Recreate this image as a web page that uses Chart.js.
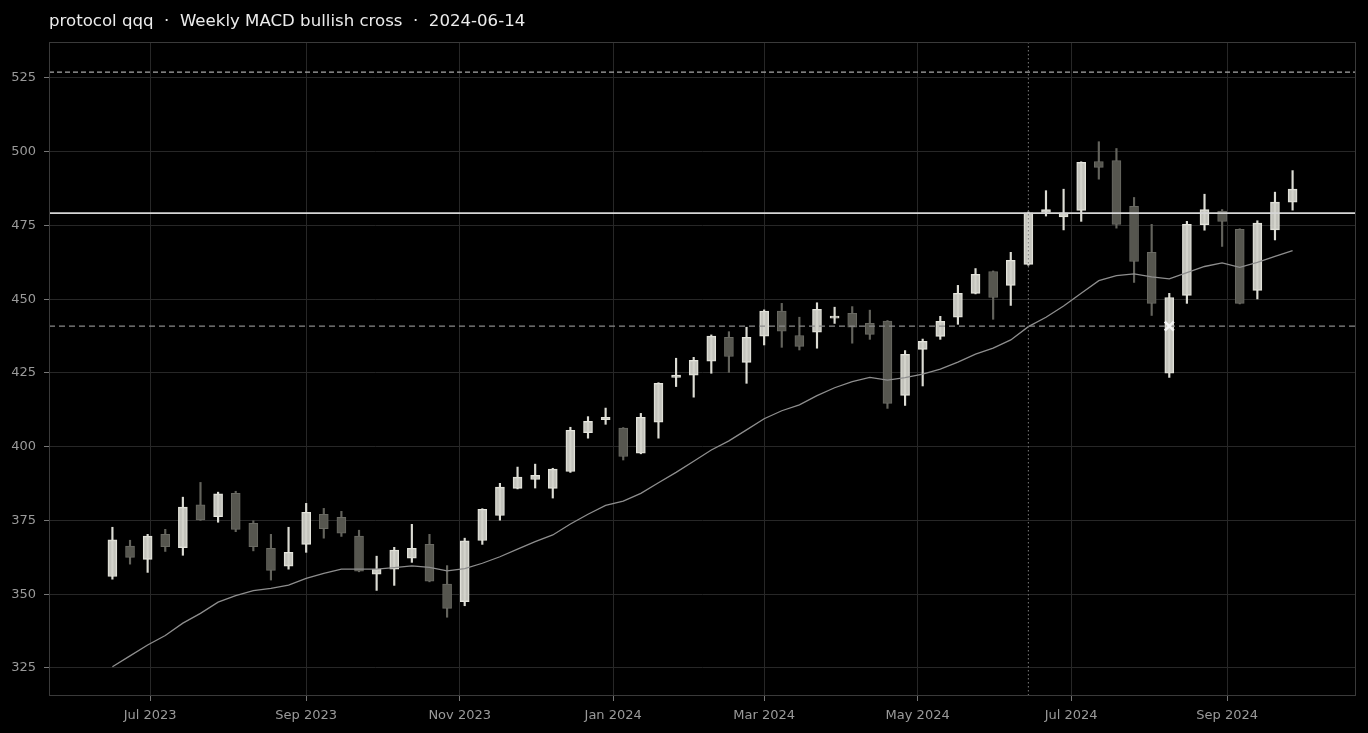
<!DOCTYPE html>
<html lang="en">
<head>
<meta charset="UTF-8">
<title>protocol qqq weekly</title>
<script src="https://cdn.jsdelivr.net/npm/chart.js@4.4.1/dist/chart.umd.min.js"></script>
<style>
  html, body { margin: 0; padding: 0; background: #000; }
  #chart { display: block; }
</style>
</head>
<body>
<canvas id="chart" width="1368" height="733"></canvas>
<script>
// weekly bars (Friday dates)
const weeks = [
  '2023-06-16','2023-06-23','2023-06-30','2023-07-07','2023-07-14','2023-07-21','2023-07-28',
  '2023-08-04','2023-08-11','2023-08-18','2023-08-25','2023-09-01','2023-09-08','2023-09-15',
  '2023-09-22','2023-09-29','2023-10-06','2023-10-13','2023-10-20','2023-10-27','2023-11-03',
  '2023-11-10','2023-11-17','2023-11-24','2023-12-01','2023-12-08','2023-12-15','2023-12-22',
  '2023-12-29','2024-01-05','2024-01-12','2024-01-19','2024-01-26','2024-02-02','2024-02-09',
  '2024-02-16','2024-02-23','2024-03-01','2024-03-08','2024-03-15','2024-03-22','2024-03-29',
  '2024-04-05','2024-04-12','2024-04-19','2024-04-26','2024-05-03','2024-05-10','2024-05-17',
  '2024-05-24','2024-05-31','2024-06-07','2024-06-14','2024-06-21','2024-06-28','2024-07-05',
  '2024-07-12','2024-07-19','2024-07-26','2024-08-02','2024-08-09','2024-08-16','2024-08-23',
  '2024-08-30','2024-09-06','2024-09-13','2024-09-20','2024-09-27'
];
const opens = [
  356.0,366.3,361.8,370.3,365.8,380.3,376.3,384.2,374.0,365.6,359.5,366.9,377.1,376.1,
  369.7,356.8,358.5,362.2,366.9,353.4,347.5,368.2,376.7,385.9,388.9,385.9,391.6,404.8,
  409.2,406.3,397.8,408.3,423.5,424.3,429.0,437.1,428.6,437.5,446.0,437.7,438.8,443.6,
  445.2,441.8,442.6,417.4,433.0,437.4,443.9,452.0,459.4,454.7,461.8,479.4,477.9,480.1,
  496.7,497.0,481.5,465.9,424.9,451.3,475.3,479.9,473.7,453.0,473.5,482.9
];
const highs = [
  372.7,368.3,370.3,372.0,382.9,387.9,384.6,384.9,374.9,370.3,372.7,380.8,379.1,378.1,
  371.7,362.9,365.9,373.7,370.3,359.7,369.0,379.0,387.6,393.1,394.1,392.7,406.6,410.2,
  413.1,406.5,411.3,421.7,430.0,430.3,437.9,439.0,440.5,446.4,448.6,443.9,448.8,447.3,
  447.5,446.3,442.8,432.6,436.5,444.2,454.7,460.4,459.6,465.9,479.6,486.8,487.3,496.6,
  503.4,501.1,484.5,475.4,452.0,476.4,485.6,480.4,473.9,476.6,486.3,493.6
];
const lows = [
  355.1,360.2,357.4,364.5,363.2,375.0,374.4,371.2,364.7,354.8,358.5,364.2,369.0,369.6,
  357.6,351.3,353.0,360.8,354.2,342.2,346.1,366.9,375.1,385.7,386.0,382.6,391.3,402.9,
  407.6,395.5,397.6,402.9,420.4,416.8,424.9,425.2,421.5,434.5,433.7,432.8,433.4,441.8,
  435.1,436.4,413.0,414.0,420.6,436.4,441.5,451.8,443.2,447.9,461.5,478.2,473.5,476.4,
  490.7,474.1,455.7,444.5,423.5,448.6,473.4,467.9,448.4,450.1,470.1,480.2
];
const closes = [
  368.4,362.5,369.7,366.1,379.5,375.2,384.0,372.0,366.1,358.1,364.2,377.8,372.2,370.7,
  357.8,358.5,365.0,365.6,354.4,345.2,368.1,378.8,386.3,389.7,390.3,392.4,405.6,408.6,
  410.0,396.7,410.0,421.5,424.3,429.3,437.5,430.6,437.1,446.0,439.2,434.0,446.6,444.3,
  440.5,438.1,414.7,431.3,435.7,442.5,452.0,458.4,450.6,463.2,479.3,480.4,479.3,496.4,
  494.7,475.4,462.8,448.6,450.6,475.4,480.4,476.4,448.6,475.8,482.9,487.3
];
const maValues = [
  325.4,329.1,332.8,336.0,340.2,343.5,347.3,349.5,351.2,352.0,353.1,355.4,357.1,358.5,
  358.5,358.5,359.0,359.6,359.1,357.9,358.7,360.5,362.7,365.3,367.8,370.1,373.8,377.1,
  380.1,381.6,384.2,387.8,391.3,395.1,398.9,402.0,405.7,409.5,412.2,414.2,417.3,420.0,
  422.1,423.5,422.6,423.4,424.6,426.3,428.7,431.4,433.4,436.2,440.7,443.9,447.7,452.0,
  456.3,458.0,458.6,457.6,456.9,459.0,461.1,462.3,460.8,462.5,464.5,466.5
];

const yTicks = [325, 350, 375, 400, 425, 450, 475, 500, 525];
const monthTicks = ['2023-07-01','2023-09-01','2023-11-01','2024-01-01','2024-03-01','2024-05-01','2024-07-01','2024-09-01'];
const monthNames = ['Jan','Feb','Mar','Apr','May','Jun','Jul','Aug','Sep','Oct','Nov','Dec'];

const upperLevel = 527.0;
const pivotLevel = 479.2;
const lowerLevel = 440.9;
const signalDate = '2024-06-14';
const markerDate = '2024-08-09';
const markerValue = 440.9;

const titleText = 'protocol qqq  \u00b7  Weekly MACD bullish cross  \u00b7  2024-06-14';

const DAY = 86400000;
const ts = weeks.map(d => Date.parse(d));
const isUp = opens.map((o, i) => closes[i] >= o);

const UP_FILL = 'rgba(210,210,202,0.93)', UP_EDGE = '#e4e4dc', UP_WICK = '#dcdcd4';
const DN_FILL = '#56564f', DN_EDGE = '#6a6a63', DN_WICK = '#63635c';

const wickData = ts.map((t, i) => ({x: t, y: [lows[i], highs[i]]}));
const bodyData = ts.map((t, i) => ({x: t, y: [opens[i], closes[i]]}));
const maData = ts.map((t, i) => ({x: t, y: maValues[i]}));

// level lines go under the candles' marker but over the bars
const levels = {
  id: 'levels',
  afterDatasetsDraw(chart) {
    const {ctx, chartArea: a, scales: {x, y}} = chart;
    ctx.save();
    ctx.beginPath();
    ctx.rect(a.left, a.top, a.right - a.left, a.bottom - a.top);
    ctx.clip();
    const hline = (v, color, width, dash) => {
      const py = y.getPixelForValue(v);
      ctx.strokeStyle = color; ctx.lineWidth = width; ctx.setLineDash(dash);
      ctx.beginPath(); ctx.moveTo(a.left, py); ctx.lineTo(a.right, py); ctx.stroke();
    };
    hline(upperLevel, '#a8a8a8', 1.2, [5, 3]);
    hline(pivotLevel, '#d6d6d6', 1.6, []);
    hline(lowerLevel, '#8a8a8a', 1.4, [6, 4]);
    const px = x.getPixelForValue(Date.parse(signalDate));
    ctx.strokeStyle = '#7a7a7a'; ctx.lineWidth = 1; ctx.setLineDash([1.5, 2.5]);
    ctx.beginPath(); ctx.moveTo(px, a.top); ctx.lineTo(px, a.bottom); ctx.stroke();

    // signal marker on top of the dashed line
    const mx = x.getPixelForValue(Date.parse(markerDate));
    const my = y.getPixelForValue(markerValue);
    ctx.setLineDash([]);
    ctx.strokeStyle = '#f4f4f4'; ctx.lineWidth = 2.5;
    ctx.beginPath();
    ctx.moveTo(mx - 4.5, my - 4.5); ctx.lineTo(mx + 4.5, my + 4.5);
    ctx.moveTo(mx + 4.5, my - 4.5); ctx.lineTo(mx - 4.5, my + 4.5);
    ctx.stroke();
    ctx.restore();
  },
  afterDraw(chart) {
    const {ctx, chartArea: a} = chart;
    ctx.save();
    ctx.strokeStyle = '#3a3a3a'; ctx.lineWidth = 1;
    ctx.strokeRect(a.left + 0.5, a.top + 0.5, a.right - a.left - 1, a.bottom - a.top - 1);
    ctx.fillStyle = '#ececec';
    ctx.font = '16.6px "DejaVu Sans"';
    ctx.textBaseline = 'alphabetic';
    ctx.textAlign = 'left';
    ctx.fillText(titleText, a.left, 26);
    ctx.restore();
  }
};

new Chart(document.getElementById('chart'), {
  type: 'bar',
  data: {
    datasets: [
      {
        type: 'line', data: maData, borderColor: '#8e8e8e', borderWidth: 1.3,
        pointRadius: 0, tension: 0, fill: false, order: 2
      },
      {
        data: bodyData, barThickness: 9, grouped: false, order: 3,
        backgroundColor: isUp.map(u => u ? UP_FILL : DN_FILL),
        borderColor: isUp.map(u => u ? UP_EDGE : DN_EDGE),
        borderWidth: 1, borderSkipped: false
      },
      {
        data: wickData, barThickness: 1.5, grouped: false, order: 4,
        backgroundColor: isUp.map(u => u ? UP_WICK : DN_WICK),
        borderWidth: 0
      }
    ]
  },
  options: {
    responsive: false,
    animation: false,
    devicePixelRatio: 1,
    layout: { padding: { top: 42, right: 12, left: 0, bottom: 0 } },
    plugins: { legend: { display: false }, tooltip: { enabled: false }, title: { display: false } },
    scales: {
      x: {
        type: 'linear', offset: false, z: 1,
        min: ts[0] - 25.2 * DAY, max: ts[ts.length - 1] + 25.2 * DAY,
        afterBuildTicks: s => { s.ticks = monthTicks.map(d => ({value: Date.parse(d)})); },
        afterFit: s => { s.height = 37; },
        grid: { offset: false, color: '#272727', lineWidth: 1, tickColor: '#777', tickLength: 5 },
        border: { display: false },
        ticks: {
          color: '#9a9a9a', font: { family: 'DejaVu Sans', size: 13 }, padding: 7,
          maxRotation: 0, autoSkip: false,
          callback: v => { const d = new Date(v); return monthNames[d.getUTCMonth()] + ' ' + d.getUTCFullYear(); }
        }
      },
      y: {
        type: 'linear', z: 1,
        min: 315.5, max: 537.2,
        afterBuildTicks: s => { s.ticks = yTicks.map(v => ({value: v})); },
        afterFit: s => { s.width = 49; },
        grid: { color: '#272727', lineWidth: 1, tickColor: '#777', tickLength: 5 },
        border: { display: false },
        ticks: { color: '#9a9a9a', font: { family: 'DejaVu Sans', size: 13 }, padding: 8 }
      }
    }
  },
  plugins: [levels]
});
</script>
</body>
</html>
